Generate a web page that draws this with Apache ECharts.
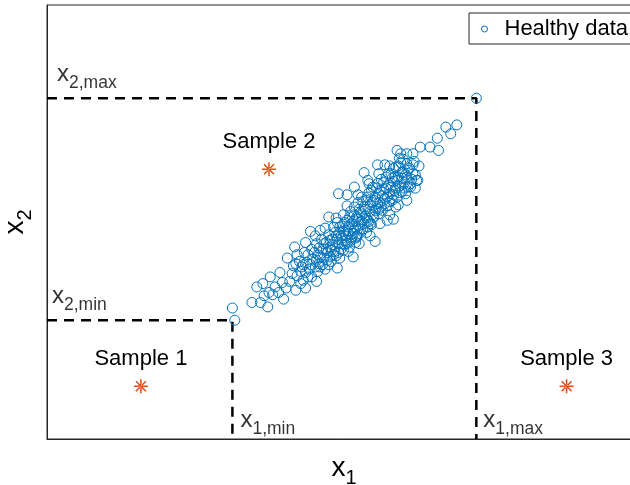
<!DOCTYPE html>
<html>
<head>
<meta charset="utf-8">
<script src="https://cdn.jsdelivr.net/npm/echarts@6/dist/echarts.min.js"></script>
<style>html,body{margin:0;padding:0;background:#fff;}#c{width:630px;height:485px;}</style>
</head>
<body>
<div id="c"></div>
<script>
// ---- data (units: x1 and x2 scaled so that healthy min = 0 and max = 20) ----
var x1Min = 0, x1Max = 20, x2Min = 0, x2Max = 20;
var sampleNames = ['Sample 1', 'Sample 2', 'Sample 3'];
var sampleX = [-7.5, 3.0, 27.4];
var sampleY = [-5.95, 13.6, -5.95];
var healthyData = [
  // lower tail
  [0.0,1.1],[0.2,0.0],[1.6,1.6],[2.3,1.6],[2.0,3.0],[2.5,3.3],[3.0,2.5],[3.3,2.3],[3.8,2.5],[4.1,3.4],
  [5.2,2.7],[5.8,3.6],[4.9,4.2],[5.7,4.8],[4.5,5.6],[2.6,2.2],[3.5,3.0],[4.4,2.9],[3.9,4.3],[4.7,3.5],
  [5.3,4.0],[6.0,2.9],[6.2,3.9],[5.6,3.3],[3.1,3.9],[4.2,1.9],[2.9,1.2],
  // upper tail
  [13.5,15.3],[14.3,15.0],[15.4,15.6],[16.2,15.6],[16.9,15.3],[16.8,16.4],[17.5,17.4],[18.4,17.6],
  [17.9,16.8],[20.0,20.0],[13.8,15.0],[14.8,15.0],
  // band edges
  [11.9,14.0],[12.5,14.0],[13.2,13.7],[13.9,13.3],[14.8,13.2],[15.2,12.6],[14.6,12.0],[14.3,12.9],
  [14.2,11.4],[13.4,10.2],[11.1,12.6],[9.4,11.3],[8.7,11.4],[6.4,8.0],[7.2,8.1],[11.1,8.4],[10.1,7.4],
  [11.3,8.7],[10.2,7.5],[9.1,6.3],[8.0,5.7],[7.2,4.8],[7.9,9.3],[10.0,12.0],[12.7,9.0],[8.6,4.7],
  [5.1,6.6],[6.9,3.5],[11.7,7.1],[9.9,5.7],[13.2,9.1],[10.8,13.3],
  // core
  [5.0,4.9],[5.3,5.9],[5.6,4.4],[5.9,6.1],[6.1,5.2],[6.3,4.6],[6.5,6.4],[6.6,5.5],[6.8,4.8],[6.9,6.9],
  [7.0,5.9],[7.1,5.1],[7.3,7.3],[7.4,6.4],[7.5,5.6],[7.6,4.6],[7.7,7.0],[7.8,6.1],[7.9,7.7],[8.0,6.6],
  [8.1,5.3],[8.2,7.3],[8.3,8.4],[8.4,6.2],[8.5,7.6],[8.5,5.8],[8.6,8.8],[8.7,6.9],[8.8,7.9],[8.9,6.4],
  [9.0,8.5],[9.0,7.4],[9.1,9.5],[9.2,6.8],[9.3,8.1],[9.3,7.2],[9.4,9.0],[9.5,7.8],[9.6,6.6],[9.6,8.6],
  [9.7,9.8],[9.8,7.5],[9.9,8.9],[10.0,8.1],[10.0,10.2],[10.1,7.0],[10.2,9.3],[10.3,8.5],[10.3,10.6],[10.4,7.8],
  [10.5,9.7],[10.6,8.9],[10.6,11.1],[10.7,8.2],[10.8,10.2],[10.9,9.4],[11.0,7.9],[11.0,10.8],[11.1,9.0],[11.2,11.5],
  [11.3,9.8],[11.4,8.6],[11.5,10.6],[11.5,12.0],[11.6,9.3],[11.7,11.1],[11.8,10.1],[11.9,12.3],[12.0,9.6],[12.0,11.4],
  [12.1,10.6],[12.2,12.7],[12.3,9.9],[12.4,11.8],[12.5,10.9],[12.6,12.9],[12.7,10.3],[12.8,12.2],[12.9,11.4],[13.0,13.2],
  [13.1,10.8],[13.2,12.5],[13.3,11.7],[13.4,13.8],[13.5,11.1],[13.6,12.9],[13.7,12.1],[13.8,14.2],[13.9,11.6],[14.0,13.4],
  [14.1,12.4],[14.3,14.1],[14.4,12.0],[14.5,13.7],[14.7,12.7],[14.9,14.3],[15.0,13.1],[15.3,13.9],
  [5.2,5.1],[5.5,5.3],[5.8,5.0],[6.0,4.3],[6.2,5.9],[6.4,5.0],[6.7,6.1],[6.9,5.4],[7.1,6.5],[7.2,5.7],
  [7.4,5.0],[7.5,6.9],[7.7,6.4],[7.8,5.4],[8.0,7.2],[8.1,6.3],[8.2,6.8],[8.3,5.9],[8.4,7.9],[8.6,7.3],
  [8.7,6.1],[8.8,8.4],[8.9,7.6],[9.0,6.9],[9.1,8.0],[9.2,8.8],[9.3,7.6],[9.4,6.9],[9.5,8.4],[9.6,9.3],
  [9.7,7.2],[9.8,8.7],[9.9,7.8],[10.0,9.5],[10.1,8.4],[10.2,7.6],[10.3,9.1],[10.4,10.0],[10.5,8.2],[10.6,9.5],
  [10.7,10.7],[10.8,8.7],[10.9,10.0],[11.0,9.2],[11.1,11.1],[11.2,8.9],[11.3,10.4],[11.4,11.7],[11.5,9.5],[11.6,10.8],
  [11.7,9.9],[11.8,11.9],[11.9,10.5],[12.0,10.0],[12.1,11.7],[12.2,10.2],[12.3,11.2],[12.4,12.4],[12.5,10.5],[12.6,11.9],
  [12.7,11.1],[12.8,13.2],[12.9,10.7],[13.0,12.0],[13.1,12.8],[13.2,11.3],[13.3,12.9],[13.4,11.9],[13.5,12.6],[13.6,13.9],
  [13.7,11.5],[13.9,12.8],[14.0,14.5],[14.1,11.9],[14.2,13.1],[14.4,13.5],[14.6,12.3],[14.8,14.0],[15.1,12.6],
  [6.5,3.9],[7.0,4.4],[7.9,5.0],[8.8,5.6],[9.5,6.2],[10.4,6.9],[11.3,7.6],[12.1,8.7],[12.9,9.5],[13.6,10.4],
  [14.3,10.8],[15.0,11.9],[6.0,7.0],[6.8,7.6],[7.6,8.3],[8.5,9.2],[9.4,10.3],[10.3,11.3],[11.2,12.3],[12.0,13.2],
  [12.9,13.9],[13.7,14.6]
];
// axis extents
var xAxisMin = -15.2, xAxisMax = 33.5;
var yAxisMin = -10.7, yAxisMax = 28.4;

// ---- chart ----
var FONT = 'Liberation Sans, Arial, Helvetica, sans-serif';
var BLUE = '#0072BD', ORANGE = '#D95319', AXIS = '#262626';
var asterisk = 'path://M-1.1,-10L1.1,-10L1.1,10L-1.1,10Z M-10,-1.1L10,-1.1L10,1.1L-10,1.1Z ' +
  'M-6.29,-7.85L7.85,6.29L6.29,7.85L-7.85,-6.29Z M-6.29,7.85L7.85,-6.29L6.29,-7.85L-7.85,6.29Z';

var richSub = {
  m: { fontSize: 24, color: '#000', fontFamily: FONT },
  s: { fontSize: 17.5, color: '#000', fontFamily: FONT, padding: [17, 0, 0, 0] }
};
function annot(x, y, m, s, pos) {
  return {
    value: [x, y],
    label: { show: true, formatter: '{m|' + m + '}{s|' + s + '}', rich: richSub,
             position: pos, align: 'left', verticalAlign: 'bottom' }
  };
}
var dash = { color: '#000', width: 2.5, type: [10, 7] };

var chart = echarts.init(document.getElementById('c'), null, { renderer: 'canvas' });
chart.setOption({
  animation: false,
  textStyle: { fontFamily: FONT },
  grid: { left: 47, top: 5, right: -11, bottom: 46, outerBoundsMode: 'none', containLabel: false,
          show: true, borderColor: AXIS, borderWidth: 1, backgroundColor: 'transparent' },
  legend: {
    data: [{ name: 'Healthy data', icon: 'circle',
             itemStyle: { color: 'rgba(0,0,0,0)', borderColor: BLUE, borderWidth: 1 } }],
    left: 469, top: 13,
    orient: 'vertical',
    itemWidth: 6, itemHeight: 6,
    padding: [5, 30, 4, 12],
    backgroundColor: '#fff',
    borderColor: AXIS, borderWidth: 1,
    textStyle: { fontSize: 22, color: '#000', fontFamily: FONT, lineHeight: 22, padding: [0, 0, 0, 12] },
    selectedMode: false
  },
  xAxis: {
    type: 'value', min: xAxisMin, max: xAxisMax,
    axisLine: { show: true, onZero: false, lineStyle: { color: AXIS, width: 1 } },
    axisTick: { show: false }, axisLabel: { show: false }, splitLine: { show: false },
    name: '{m|x}{s|1}', nameLocation: 'middle', nameGap: 9,
    nameTextStyle: { rich: {
      m: { fontSize: 28, color: '#000', fontFamily: FONT },
      s: { fontSize: 20, color: '#000', fontFamily: FONT, padding: [20, 0, 0, 0] } } }
  },
  yAxis: {
    type: 'value', min: yAxisMin, max: yAxisMax,
    axisLine: { show: true, onZero: false, lineStyle: { color: AXIS, width: 1 } },
    axisTick: { show: false }, axisLabel: { show: false }, splitLine: { show: false },
    name: '{m|x}{s|2}', nameLocation: 'middle', nameGap: 12, nameRotate: 90,
    nameTextStyle: { rich: {
      m: { fontSize: 28, color: '#000', fontFamily: FONT },
      s: { fontSize: 20, color: '#000', fontFamily: FONT, padding: [20, 0, 0, 0] } } }
  },
  series: [
    {
      name: 'limitsUpper', type: 'line', silent: true, symbol: 'none', z: 3,
      data: [[xAxisMin, x2Max], [x1Max, x2Max], [x1Max, yAxisMin]],
      lineStyle: dash
    },
    {
      name: 'limitsLower', type: 'line', silent: true, symbol: 'none', z: 3,
      data: [[xAxisMin, x2Min], [x1Min, x2Min], [x1Min, yAxisMin]],
      lineStyle: dash
    },
    {
      name: 'Healthy data', type: 'scatter', silent: true, symbol: 'circle', symbolSize: 10, z: 4,
      itemStyle: { color: 'rgba(0,0,0,0)', borderColor: BLUE, borderWidth: 1, opacity: 1 },
      data: healthyData
    },
    {
      name: 'Samples', type: 'scatter', silent: true, symbol: asterisk, symbolSize: 14, symbolKeepAspect: true, z: 5,
      itemStyle: { color: ORANGE, opacity: 1 },
      label: { show: true, position: 'top', distance: 9, fontSize: 22, color: '#000', fontFamily: FONT,
               formatter: function (p) { return sampleNames[p.dataIndex]; } },
      data: sampleX.map(function (x, i) { return [x, sampleY[i]]; })
    },
    {
      name: 'Annotations', type: 'scatter', silent: true, symbolSize: 0, z: 6,
      data: [
        annot(xAxisMin, x2Max, 'x', '2,max', [10, -6]),
        annot(xAxisMin, x2Min, 'x', '2,min', [5, -6]),
        annot(x1Min, yAxisMin, 'x', '1,min', [8, -1]),
        annot(x1Max, yAxisMin, 'x', '1,max', [7, -1])
      ]
    }
  ]
});
</script>
</body>
</html>
